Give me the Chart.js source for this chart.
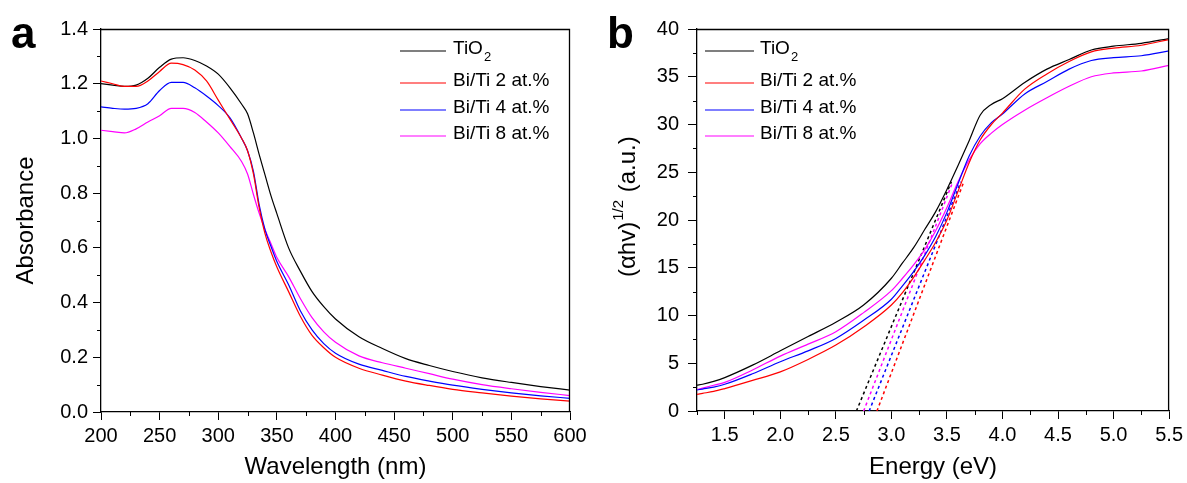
<!DOCTYPE html>
<html>
<head>
<meta charset="utf-8">
<script src="https://cdn.jsdelivr.net/npm/chart.js@4.4.0/dist/chart.umd.min.js"></script>
<style>
  html, body { margin: 0; padding: 0; background: #fff; }
  #wrap { position: relative; width: 1187px; height: 483px; overflow: hidden; }
  #ca { position: absolute; left: 0; top: 0; }
  #cb { position: absolute; left: 595px; top: 0; }
</style>
</head>
<body>
<div id="wrap">
  <canvas id="ca" width="595" height="483"></canvas>
  <canvas id="cb" width="592" height="483"></canvas>
</div>
<script>
// series names and colours
var seriesNames = ['TiO_2', 'Bi/Ti 2 at.%', 'Bi/Ti 4 at.%', 'Bi/Ti 8 at.%'];
var seriesColors = ['#000000', '#ff0000', '#0000ff', '#ff00ff'];

// panel a: absorbance spectra
var wavelength = [200,210,220,230,240,250,260,270,280,290,300,310,320,325,330,335,340,345,350,360,370,380,390,400,420,440,460,480,500,525,550,575,600];
var absTiO2 = [1.20,1.195,1.19,1.195,1.22,1.26,1.29,1.295,1.285,1.265,1.235,1.185,1.125,1.09,1.02,0.94,0.865,0.79,0.725,0.60,0.515,0.44,0.385,0.34,0.275,0.232,0.195,0.17,0.148,0.125,0.108,0.093,0.08];
var absBi2  = [1.21,1.20,1.19,1.19,1.21,1.245,1.275,1.27,1.25,1.21,1.14,1.07,1.0,0.955,0.87,0.745,0.65,0.585,0.53,0.44,0.35,0.28,0.235,0.20,0.16,0.135,0.113,0.097,0.083,0.07,0.058,0.048,0.04];
var absBi4  = [1.115,1.11,1.107,1.11,1.127,1.175,1.205,1.205,1.185,1.155,1.12,1.075,1.0,0.955,0.88,0.755,0.665,0.605,0.55,0.465,0.37,0.30,0.25,0.215,0.175,0.152,0.13,0.113,0.098,0.083,0.07,0.059,0.05];
var absBi8  = [1.03,1.025,1.02,1.035,1.06,1.083,1.11,1.11,1.095,1.06,1.02,0.97,0.915,0.87,0.795,0.725,0.665,0.615,0.565,0.495,0.415,0.345,0.293,0.255,0.205,0.18,0.16,0.14,0.12,0.10,0.085,0.072,0.06];
var aXTicks = [200,250,300,350,400,450,500,550,600];
var aYTicks = [0,0.2,0.4,0.6,0.8,1.0,1.2,1.4];

// panel b: Tauc plot
var energy = [1.25,1.3,1.4,1.5,1.75,2.0,2.25,2.5,2.75,3.0,3.1,3.2,3.3,3.4,3.5,3.6,3.7,3.8,3.9,4.0,4.2,4.4,4.6,4.8,5.0,5.25,5.5];
var taucTiO2 = [2.7,2.8,3.1,3.5,4.8,6.3,7.8,9.3,11.1,13.9,15.5,17.1,19.0,20.9,23.2,25.7,28.3,31.0,32.1,32.7,34.4,35.8,36.8,37.8,38.2,38.5,39.0];
var taucBi2  = [1.75,1.85,2.05,2.35,3.2,4.1,5.4,6.9,8.8,11.1,12.4,14.0,15.8,17.7,20.0,23.0,26.0,28.4,30.0,31.2,33.7,35.3,36.6,37.6,38.0,38.3,38.9];
var taucBi4  = [2.2,2.3,2.5,2.8,3.9,5.16,6.3,7.6,9.5,11.7,13.1,14.6,16.3,18.3,20.8,23.8,26.7,28.8,30.2,31.1,33.2,34.5,35.8,36.7,37.0,37.2,37.7];
var taucBi8  = [2.25,2.4,2.7,3.0,4.3,5.75,7.0,8.3,10.3,12.6,13.9,15.3,16.9,18.9,21.3,24.0,26.3,28.0,29.1,30.0,31.5,32.8,34.0,35.0,35.4,35.6,36.2];
// linear fits: band gap intercept and end point of the dashed line
var fitStartE = [2.685, 2.87, 2.80, 2.75];
var fitEndE   = [3.54, 3.652, 3.625, 3.553];
var fitEndV   = [24, 24, 24, 24];
var bXTicks = [1.5,2.0,2.5,3.0,3.5,4.0,4.5,5.0,5.5];
var bYTicks = [0,5,10,15,20,25,30,35,40];

Chart.defaults.font.family = '"Liberation Sans", Arial, sans-serif';
Chart.defaults.color = '#000';
var FONT = '"Liberation Sans", Arial, sans-serif';

function pairs(xs, ys) {
    return xs.map(function(x, i) { return {x: x, y: ys[i]}; });
}

function curve(label, color, pts) {
    return {
        label: label, data: pts, borderColor: color, borderWidth: 1.2,
        pointRadius: 0, fill: false, cubicInterpolationMode: 'monotone'
    };
}

// frame top/right, minor ticks, panel letter, legend, custom titles
var decor = {
    id: 'decor',
    afterDraw: function(chart, args, opts) {
        var ctx = chart.ctx, a = chart.chartArea;
        var xs = chart.scales.x, ys = chart.scales.y;
        ctx.save();
        ctx.strokeStyle = '#000';
        ctx.lineWidth = 1.3;
        ctx.beginPath();
        ctx.moveTo(a.left, a.top + 0.5);
        ctx.lineTo(a.right - 0.5, a.top + 0.5);
        ctx.lineTo(a.right - 0.5, a.bottom);
        ctx.stroke();

        // minor ticks halfway between major ones
        ctx.lineWidth = 1;
        ctx.beginPath();
        var xt = xs.ticks.map(function(t) { return t.value; });
        var xstep = xt[1] - xt[0];
        for (var v = xt[0] - xstep / 2; v <= xs.max + 1e-9; v += xstep) {
            if (v < xs.min - 1e-9) continue;
            var p = Math.round(xs.getPixelForValue(v)) + 0.5;
            ctx.moveTo(p, a.bottom); ctx.lineTo(p, a.bottom + 4);
        }
        var yt = ys.ticks.map(function(t) { return t.value; });
        var ystep = yt[1] - yt[0];
        for (var w = yt[0] + ystep / 2; w <= ys.max + 1e-9; w += ystep) {
            var q = Math.round(ys.getPixelForValue(w)) + 0.5;
            ctx.moveTo(a.left, q); ctx.lineTo(a.left - 4, q);
        }
        ctx.stroke();

        // panel letter
        ctx.fillStyle = '#000';
        ctx.font = 'bold 44px ' + FONT;
        ctx.textBaseline = 'alphabetic';
        ctx.fillText(opts.letter, opts.letterX, 48);

        // legend
        ctx.textBaseline = 'middle';
        ctx.lineWidth = 1.2;
        for (var i = 0; i < seriesNames.length; i++) {
            var y = opts.rowsY[i];
            ctx.strokeStyle = seriesColors[i];
            ctx.beginPath();
            ctx.moveTo(opts.lineX[0], y); ctx.lineTo(opts.lineX[1], y);
            ctx.stroke();
            var parts = seriesNames[i].split('_');
            ctx.font = '19px ' + FONT;
            ctx.fillText(parts[0], opts.textX, y - 2);
            if (parts[1]) {
                var tw = ctx.measureText(parts[0]).width;
                ctx.font = '13px ' + FONT;
                ctx.fillText(parts[1], opts.textX + tw + 1, y + 6);
            }
        }

        // y title with superscript (panel b)
        if (opts.tauc) {
            ctx.translate(opts.tauc.x, opts.tauc.y);
            ctx.rotate(-Math.PI / 2);
            ctx.textAlign = 'left';
            ctx.font = '24px ' + FONT;
            ctx.fillText('(\u03b1hv)', 0, 0);
            var w1 = ctx.measureText('(\u03b1hv)').width;
            ctx.font = '15px ' + FONT;
            ctx.fillText('1/2', w1 + 1, -9);
            var w2 = ctx.measureText('1/2').width;
            ctx.font = '24px ' + FONT;
            ctx.fillText(' (a.u.)', w1 + w2 + 2, 0);
        }
        ctx.restore();
    }
};

function axis(min, max, ticks, fmt, title, fitSize, isX, tl, pad) {
    var s = {
        type: 'linear', min: min, max: max,
        afterBuildTicks: function(sc) { sc.ticks = ticks.map(function(v) { return {value: v}; }); },
        ticks: { autoSkip: false, maxRotation: 0, padding: pad, font: {size: 20}, color: '#000', callback: fmt },
        grid: { drawOnChartArea: false, drawTicks: true, tickLength: tl, color: '#000', lineWidth: 1 },
        border: { display: true, color: '#000', width: 1.3 },
        afterFit: function(sc) { if (isX) sc.height = fitSize; else sc.width = fitSize; }
    };
    if (title) {
        s.title = { display: true, text: title, color: '#000', font: {size: 24},
                    padding: isX ? {top: 0, bottom: 1} : {top: 12, bottom: 0} };
    }
    return s;
}

// panel a
new Chart(document.getElementById('ca').getContext('2d'), {
    type: 'line',
    data: {
        datasets: [
            curve(seriesNames[1], seriesColors[1], pairs(wavelength, absBi2)),
            curve(seriesNames[2], seriesColors[2], pairs(wavelength, absBi4)),
            curve(seriesNames[3], seriesColors[3], pairs(wavelength, absBi8)),
            curve(seriesNames[0], seriesColors[0], pairs(wavelength, absTiO2))
        ]
    },
    options: {
        responsive: false, animation: false, devicePixelRatio: 1,
        layout: { padding: {top: 29, right: 25, left: 0, bottom: 0} },
        scales: {
            x: axis(200, 600, aXTicks, function(v) { return String(v); }, 'Wavelength (nm)', 71, true, 8, 4),
            y: axis(0, 1.4, aYTicks, function(v) { return v.toFixed(1); }, 'Absorbance', 101, false, 8, 5)
        },
        plugins: {
            legend: {display: false}, tooltip: {enabled: false},
            decor: { letter: 'a', letterX: 11, lineX: [400, 446], textX: 453, rowsY: [51, 83, 110, 136] }
        }
    },
    plugins: [decor]
});

// panel b
var bSets = [
    curve(seriesNames[1], seriesColors[1], pairs(energy, taucBi2)),
    curve(seriesNames[2], seriesColors[2], pairs(energy, taucBi4)),
    curve(seriesNames[3], seriesColors[3], pairs(energy, taucBi8)),
    curve(seriesNames[0], seriesColors[0], pairs(energy, taucTiO2))
];
for (var k = 0; k < fitStartE.length; k++) {
    bSets.push({
        label: seriesNames[k] + ' fit',
        data: [{x: fitStartE[k], y: 0}, {x: fitEndE[k], y: fitEndV[k]}],
        borderColor: seriesColors[k], borderWidth: 1.5, borderDash: [3, 3],
        pointRadius: 0, fill: false
    });
}

new Chart(document.getElementById('cb').getContext('2d'), {
    type: 'line',
    data: { datasets: bSets },
    options: {
        responsive: false, animation: false, devicePixelRatio: 1,
        layout: { padding: {top: 29, right: 17, left: 0, bottom: 0} },
        scales: {
            x: axis(1.25, 5.5, bXTicks, function(v) { return v.toFixed(1); }, 'Energy (eV)', 72, true, 8, 4),
            y: axis(0, 40, bYTicks, function(v) { return String(v); }, null, 102, false, 9, 9)
        },
        plugins: {
            legend: {display: false}, tooltip: {enabled: false},
            decor: { letter: 'b', letterX: 12, lineX: [110, 159], textX: 165, rowsY: [51, 83, 110, 136],
                     tauc: {x: 33, y: 277} }
        }
    },
    plugins: [decor]
});
</script>
</body>
</html>
